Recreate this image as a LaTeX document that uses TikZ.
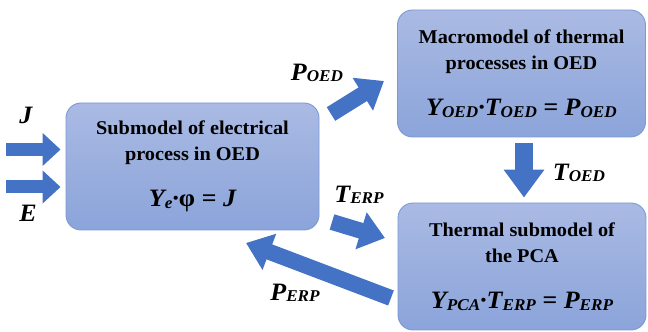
\documentclass[tikz,border=0pt]{standalone}
\usepackage{fontspec}
\setmainfont{Liberation Serif}[FakeStretch=1.04]
\usetikzlibrary{arrows.meta,calc}

\definecolor{boxtop}{HTML}{AABAE3}
\definecolor{boxbot}{HTML}{8BA4DA}
\definecolor{boxline}{HTML}{7B9AD6}
\definecolor{arrblue}{HTML}{4472C4}

% lowered small caps-like index
\newcommand{\lowsub}[1]{\raisebox{-1.5pt}{\fontsize{16.5}{16.5}\selectfont #1}}
\newcommand{\eqfont}{\fontsize{25}{26}\selectfont\bfseries\itshape}

\begin{document}
\begin{tikzpicture}[x=1pt, y=1pt,
  model/.style={rectangle,rounded corners=15pt,draw=boxline,line width=0.9pt,top color=boxtop,bottom color=boxbot,align=center,
    font=\bfseries\fontsize{19.5}{26}\selectfont,minimum height=127pt,inner sep=2pt},
  blockarr/.style={draw=arrblue,line width=16pt,-{Triangle[length=25pt,width=37pt]}},
  inarr/.style={draw=arrblue,line width=13pt,-{Triangle[length=18pt,width=32pt]}},
  lab/.style={font=\eqfont,inner sep=1pt}]
\useasboundingbox (0,0) rectangle (648,332);
\node[model, minimum width=253pt] (elec) at (192.5,165.5) {Submodel of electrical\\process in OED\\[20pt]{\eqfont Y\lowsub{e}·{\upshape φ} = J}};
\node[model, minimum width=248pt] (macro) at (521.5,258.5) {Macromodel of thermal\\processes in OED\\[20pt]{\eqfont Y\lowsub{OED}·T\lowsub{OED} = P\lowsub{OED}}};
\node[model, minimum width=248pt] (pca) at (522,65.5) {Thermal submodel of\\the PCA\\[20pt]{\eqfont Y\lowsub{PCA}·T\lowsub{ERP} = P\lowsub{ERP}}};
% free ends of the block arrows
\coordinate (jin) at (6,182.5);
\coordinate (ein) at (6,145);
\coordinate (poed-s) at (331,218);
\coordinate (poed-e) at (384,251);
\coordinate (terp-s) at (332,110);
\coordinate (terp-e) at (385,94);
\coordinate (perp-s) at (391,34);
\coordinate (perp-e) at (246,89);
\draw[inarr, shorten >=5pt] (jin) -- (jin -| elec.west);
\draw[inarr, shorten >=5pt] (ein) -- (ein -| elec.west);
\draw[blockarr] (poed-s) -- (poed-e);
\draw[blockarr, line width=18pt, -{Triangle[length=28pt,width=39pt]}, shorten <=6pt, shorten >=5pt] (macro.south -| 524,0) -- (pca.north -| 524,0);
\draw[blockarr] (terp-s) -- (terp-e);
\draw[blockarr] (perp-s) -- (perp-e);
\node[lab] (jlab) at (26,217) {J};
\node[lab] (elab) at (28,119) {E};
\node[lab] (poedlab) at (317,259) {P\lowsub{OED}};
\node[lab] (toedlab) at (579,159) {T\lowsub{OED}};
\node[lab] (terplab) at (359,137) {T\lowsub{ERP}};
\node[lab] (perplab) at (295,39) {P\lowsub{ERP}};
\end{tikzpicture}
\end{document}
